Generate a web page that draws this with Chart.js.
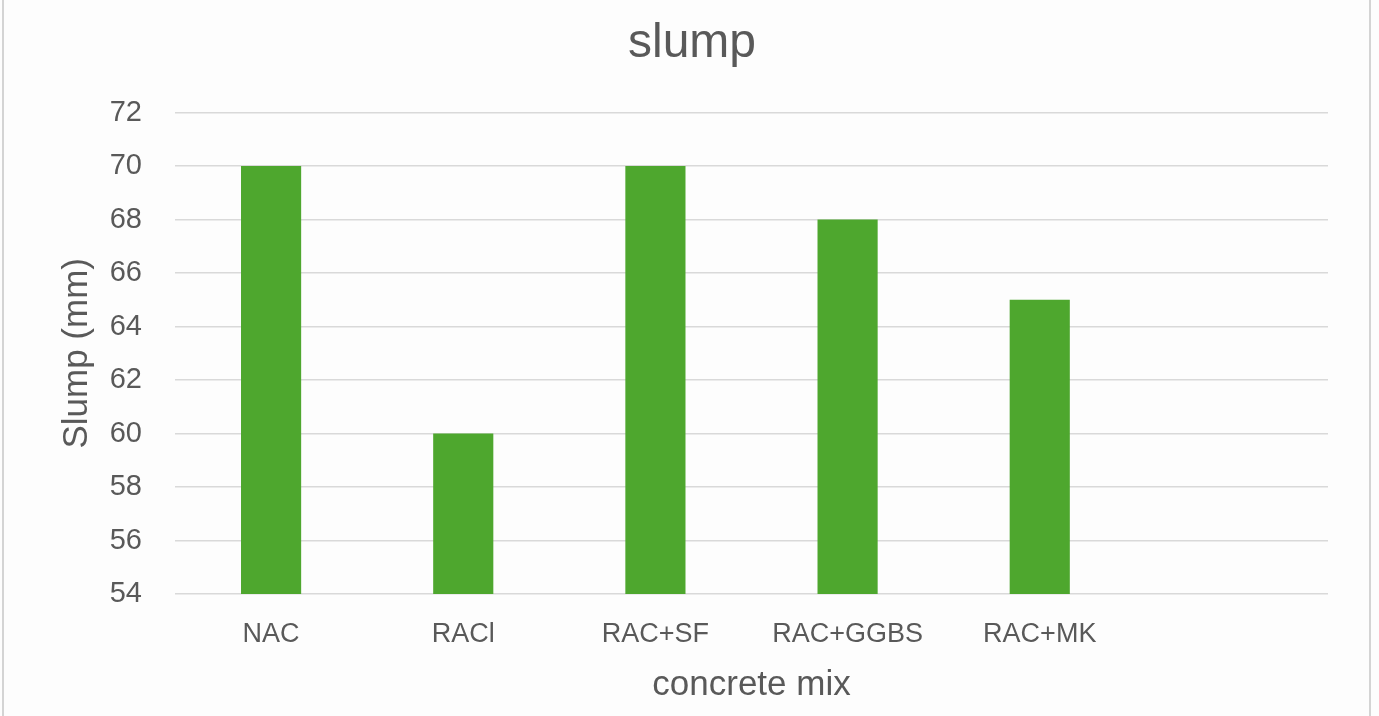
<!DOCTYPE html>
<html>
<head>
<meta charset="utf-8">
<script src="https://cdn.jsdelivr.net/npm/chart.js@4"></script>
<style>
    html, body { margin: 0; padding: 0; background: #fff; }
    .sheet {
        position: relative;
        width: 1379px;
        height: 716px;
        overflow: hidden;
        background: #fdfdfd;
    }
    .sheet::before, .sheet::after {
        content: '';
        position: absolute;
        top: 0; bottom: 0;
        width: 2px;
        background: #d4d4d4;
    }
    .sheet::before { left: 2px; }
    .sheet::after { left: 1369px; }
    canvas { position: absolute; left: 0; top: 0; }
</style>
</head>
<body>
<div class="sheet">
    <canvas id="slumpChart" width="1379" height="716"></canvas>
</div>
<script>
// Data
const mixes = ['NAC', 'RACl', 'RAC+SF', 'RAC+GGBS', 'RAC+MK', ''];
const slump = [70, 60, 70, 68, 65, null];
const yTicks = [54, 56, 58, 60, 62, 64, 66, 68, 70, 72];

const FONT = "'Liberation Sans', Arial, sans-serif";
const GREY = '#595959';

const ctx = document.getElementById('slumpChart').getContext('2d');

new Chart(ctx, {
    type: 'bar',
    data: {
        labels: mixes,
        datasets: [
            {
                label: 'Slump',
                data: slump,
                backgroundColor: '#4ea72e',
                categoryPercentage: 1,
                barPercentage: 0.313
            }
        ]
    },
    options: {
        responsive: false,
        animation: false,
        layout: { padding: { left: 56, right: 51, top: 15, bottom: 10 } },
        plugins: {
            legend: { display: false },
            tooltip: { enabled: false },
            title: {
                display: true,
                text: 'slump',
                color: GREY,
                font: { family: FONT, size: 48, weight: 'normal' },
                padding: { top: 0, bottom: 40 }
            }
        },
        scales: {
            x: {
                grid: { display: false, drawTicks: false },
                border: { display: false },
                ticks: {
                    color: GREY,
                    font: { family: FONT, size: 27 },
                    padding: 24,
                    maxRotation: 0
                },
                title: {
                    display: true,
                    text: 'concrete mix',
                    color: GREY,
                    font: { family: FONT, size: 35 },
                    padding: { top: 16, bottom: 0 }
                },
                afterFit: axis => { axis.height = 112; }
            },
            y: {
                min: yTicks[0],
                max: yTicks[yTicks.length - 1],
                afterBuildTicks: axis => { axis.ticks = yTicks.map(v => ({ value: v })); },
                grid: { color: '#d9d9d9', lineWidth: 1.5, drawTicks: false },
                border: { display: false },
                ticks: {
                    color: GREY,
                    font: { family: FONT, size: 29 },
                    padding: 33
                },
                title: {
                    display: true,
                    text: 'Slump (mm)',
                    color: GREY,
                    font: { family: FONT, size: 35 },
                    padding: { top: 0, bottom: 0 }
                },
                afterFit: axis => { axis.width = 119; }
            }
        }
    }
});
</script>
</body>
</html>
